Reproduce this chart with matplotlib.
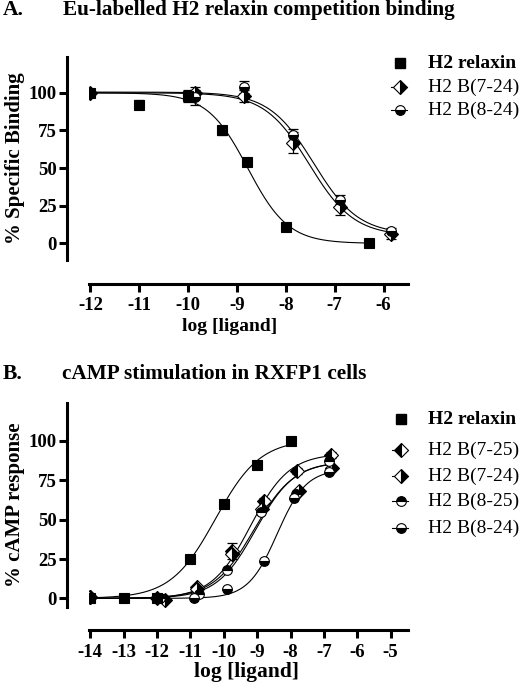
import numpy as np
import matplotlib
matplotlib.use("Agg")
import matplotlib.pyplot as plt
from matplotlib.lines import Line2D

plt.rcParams['font.family'] = ['Liberation Serif', 'DejaVu Serif']
plt.rcParams['axes.unicode_minus'] = False

# ---- panel A: Eu-labelled H2 relaxin competition binding ----
a_relaxin_x = [-12, -11, -10, -9.3, -8.8, -8, -6.3]
a_relaxin_y = [100, 92, 98, 75, 54, 11, 0]
a_relaxin_err = [1, 3, 4, 3, 1, 1, 1]
a_b724_x = [-12, -9.85, -8.85, -7.85, -6.9, -5.85]
a_b724_y = [100, 100, 98, 67, 24, 6]
a_b724_err = [1, 4, 4, 7, 5, 3]
a_b824_x = [-12, -9.85, -8.85, -7.85, -6.9, -5.85]
a_b824_y = [100, 97, 104, 72, 29, 8]
a_b824_err = [1, 5, 4, 4, 3, 2]
# fitted curves: bottom, top, logEC50, hill
a_relaxin_fit = [0, 100, -8.78, -1.05]
a_b724_fit = [5, 100, -7.52, -0.95]
a_b824_fit = [6, 100.5, -7.43, -0.95]

# ---- panel B: cAMP stimulation in RXFP1 cells ----
b_relaxin_x = [-14, -13, -12, -11, -10, -9, -8]
b_relaxin_y = [0, 0, 0.5, 25, 60, 85, 100]
b_b725_x = [-14, -12, -10.8, -9.75, -8.8, -7.8, -6.8]
b_b725_y = [1, 0, 7, 30, 62, 81, 91]
b_b725_err = [1, 1, 1, 5, 2, 2, 2]
b_b724_x = [-14, -11.75, -10.8, -9.75, -8.85, -7.75, -6.75]
b_b724_y = [1, -1, 6, 28, 57, 68, 83]
b_b825_x = [-14, -11.9, -10.75, -9.9, -8.9, -7.85, -6.85]
b_b825_y = [0, 0, 3, 18, 55, 66, 87]
b_b824_x = [-14, -12, -10.9, -9.9, -8.8, -7.9, -6.85]
b_b824_y = [0, 0, 0.5, 6, 24, 64, 80]
b_relaxin_fit = [0, 101, -10.25, 0.65]
b_b725_fit = [0, 92, -9.2, 0.75]
b_b724_fit = [0, 87, -9.1, 0.72]
b_b825_fit = [0, 87, -9.05, 0.75]
b_b824_fit = [0, 82, -8.4, 1.0]


def logistic(x, bottom, top, logec50, hill):
    return bottom + (top - bottom) / (1 + 10 ** ((logec50 - x) * hill))


def fit_line(ax, xs, params):
    xx = np.linspace(min(xs), max(xs), 300)
    ax.plot(xx, logistic(xx, *params), color='black', lw=0.8, zorder=2)


def points(ax, xs, ys, err, marker, fill):
    ax.errorbar(xs, ys, yerr=err, fmt='none', ecolor='black', elinewidth=0.9,
                capsize=3.5, capthick=0.9, zorder=3)
    ax.plot(xs, ys, ls='none', marker=marker, ms=7 if marker != 's' else 7.5,
            fillstyle=fill, markerfacecolor='black', markerfacecoloralt='white',
            markeredgecolor='black', markeredgewidth=0.8, zorder=4)


def style_axes(ax, xticks, ylim, xlim):
    ax.set_xlim(*xlim)
    ax.set_ylim(*ylim)
    for s in ['top', 'right']:
        ax.spines[s].set_visible(False)
    ax.spines['left'].set_position(('outward', 15.5))
    ax.spines['bottom'].set_position(('outward', 17))
    ax.spines['left'].set_linewidth(2.2)
    ax.spines['bottom'].set_linewidth(2.2)
    ax.spines['left'].set_bounds(*ylim)
    ax.set_xticks(xticks)
    ax.set_yticks([0, 25, 50, 75, 100])
    ax.tick_params(length=5.5, width=2.2, pad=2)
    ax.tick_params(axis='x', pad=4.5)
    for lab in ax.get_xticklabels() + ax.get_yticklabels():
        lab.set_fontsize(13.5)
        lab.set_fontweight('bold')


def legend_rows(fig, x0, rows, entries):
    for y, (label, marker, fill, bold) in zip(rows, entries):
        yf = 1 - y / 688
        if bold:
            fig.add_artist(Line2D([x0 / 520], [yf], ls='none', marker=marker, ms=7.5,
                                  color='black', transform=fig.transFigure))
        else:
            fig.add_artist(Line2D([(x0 - 9) / 520, (x0 + 7) / 520], [yf, yf], lw=0.8,
                                  color='black', transform=fig.transFigure))
            fig.add_artist(Line2D([x0 / 520], [yf], ls='none', marker=marker, ms=7,
                                  fillstyle=fill, markerfacecolor='black',
                                  markerfacecoloralt='white', markeredgecolor='black',
                                  markeredgewidth=0.8, transform=fig.transFigure))
        fig.text(428 / 520, yf, label, fontsize=14, va='center', ha='left',
                 fontweight='bold' if bold else 'normal')


fig = plt.figure(figsize=(5.2, 6.88), dpi=100)

# panel A
axA = fig.add_axes([89 / 520, 1 - 260 / 688, 319 / 520, 203.3 / 688])
fit_line(axA, a_relaxin_x, a_relaxin_fit)
fit_line(axA, a_b724_x, a_b724_fit)
fit_line(axA, a_b824_x, a_b824_fit)
points(axA, a_b724_x, a_b724_y, a_b724_err, 'D', 'right')
points(axA, a_b824_x, a_b824_y, a_b824_err, 'o', 'bottom')
points(axA, a_relaxin_x, a_relaxin_y, a_relaxin_err, 's', 'full')
style_axes(axA, range(-12, -5), (-11, 124), (-12.03, -5.5))
axA.set_ylabel('% Specific Binding', fontsize=15, fontweight='bold')
axA.yaxis.set_label_coords(-0.2, 0.5)
axA.set_xlabel('log [ligand]', fontsize=14, fontweight='bold')
axA.xaxis.set_label_coords(0.44, -0.285)

fig.text(3 / 520, 1 - 15 / 688, 'A.', fontsize=15.5, fontweight='bold', va='baseline')
fig.text(63 / 520, 1 - 15 / 688, 'Eu-labelled H2 relaxin competition binding',
         fontsize=15.3, fontweight='bold', va='baseline')
legend_rows(fig, 400, [63, 87, 110],
            [('H2 relaxin', 's', 'full', True),
             ('H2 B(7-24)', 'D', 'right', False),
             ('H2 B(8-24)', 'o', 'bottom', False)])

# panel B
axB = fig.add_axes([89 / 520, 1 - 606.7 / 688, 319 / 520, 204 / 688])
fit_line(axB, b_relaxin_x, b_relaxin_fit)
fit_line(axB, b_b725_x, b_b725_fit)
fit_line(axB, b_b724_x, b_b724_fit)
fit_line(axB, b_b825_x, b_b825_fit)
fit_line(axB, b_b824_x, b_b824_fit)
points(axB, b_b725_x, b_b725_y, b_b725_err, 'D', 'left')
points(axB, b_b724_x, b_b724_y, None, 'D', 'right')
points(axB, b_b825_x, b_b825_y, None, 'o', 'top')
points(axB, b_b824_x, b_b824_y, None, 'o', 'bottom')
points(axB, b_relaxin_x, b_relaxin_y, None, 's', 'full')
style_axes(axB, range(-14, -4), (-5.3, 124.3), (-14.04, -4.48))
axB.set_ylabel('% cAMP response', fontsize=15, fontweight='bold')
axB.yaxis.set_label_coords(-0.2, 0.5)
axB.set_xlabel('log [ligand]', fontsize=15.5, fontweight='bold')
axB.xaxis.set_label_coords(0.495, -0.27)

fig.text(3 / 520, 1 - 379 / 688, 'B.', fontsize=15.5, fontweight='bold', va='baseline')
fig.text(62 / 520, 1 - 379 / 688, 'cAMP stimulation in RXFP1 cells',
         fontsize=15.3, fontweight='bold', va='baseline')
legend_rows(fig, 401, [419, 450, 476, 501, 528],
            [('H2 relaxin', 's', 'full', True),
             ('H2 B(7-25)', 'D', 'left', False),
             ('H2 B(7-24)', 'D', 'right', False),
             ('H2 B(8-25)', 'o', 'top', False),
             ('H2 B(8-24)', 'o', 'bottom', False)])

fig.savefig('out.png', dpi=100)
